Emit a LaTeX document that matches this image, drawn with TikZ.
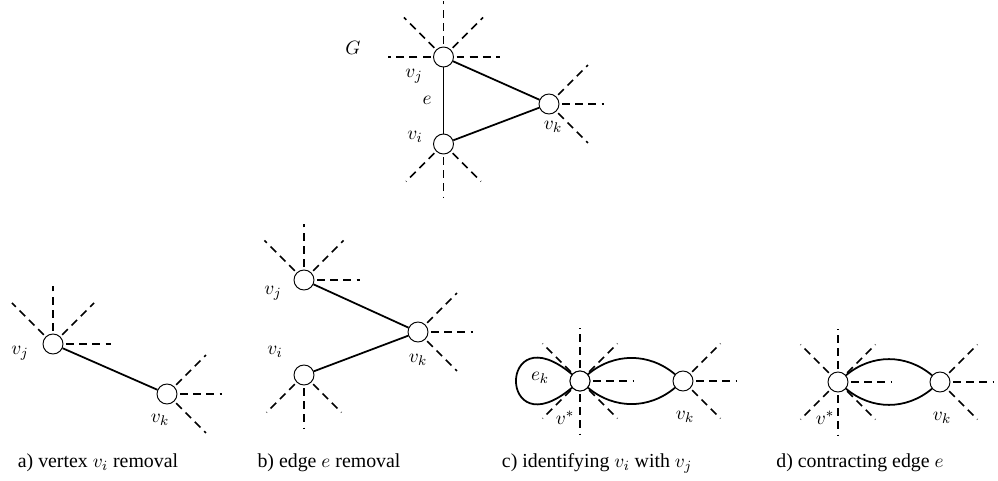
\documentclass[tikz,border=0pt]{standalone}
\usepackage{amsmath}
\usepackage{fontspec}
\setmainfont{Liberation Serif}
\usetikzlibrary{arrows.meta, positioning, calc}

\begin{document}
\begin{tikzpicture}[
    font=\fontsize{11.3}{13.5}\selectfont,
    vert/.style={circle, draw, fill=white, line width=0.55pt, inner sep=0pt, minimum size=0.4cm},
    ray/.style={line width=1pt, dash pattern=on 4.5pt off 3pt},
    edge/.style={line width=1pt}
]
    \useasboundingbox (0,0) rectangle (19.96,9.6);

    % original graph G
    \node[vert] (vj) at (8.87,8.46) {};
    \node[vert] (vi) at (8.87,6.72) {};
    \node[vert] (vk) at (10.98,7.52) {};
    \foreach \a in {0,45,90,135,180}
        \draw[ray] (vj) ++(\a:0.26) -- ++(\a:0.86);
    \foreach \a in {-45,-90,-135}
        \draw[ray] (vi) ++(\a:0.26) -- ++(\a:0.8);
    \foreach \a in {45,0,-45}
        \draw[ray] (vk) ++(\a:0.26) -- ++(\a:0.84);
    \draw[edge] (vj) -- (vi);
    \draw[edge] (vj) -- (vk);
    \draw[edge] (vi) -- (vk);
    \node (lG) at (7.06,8.64) {$G$};
    \node (lvj) at (8.28,8.08) {$v_j$};
    \node (le) at (8.54,7.6) {$e$};
    \node (lvi) at (8.3,6.86) {$v_i$};
    \node (lvk) at (11.06,7.06) {$v_k$};

    % a) vertex removal
    \node[vert] (avj) at (1.06,2.72) {};
    \node[vert] (avk) at (3.34,1.72) {};
    \foreach \a in {0,45,90,135}
        \draw[ray] (avj) ++(\a:0.26) -- ++(\a:0.9);
    \foreach \a in {45,0,-45}
        \draw[ray] (avk) ++(\a:0.26) -- ++(\a:0.84);
    \draw[edge] (avj) -- (avk);
    \node (alvj) at (0.4,2.54) {$v_j$};
    \node (alvk) at (3.2,1.2) {$v_k$};
    \node (capa) at (1.96,0.34) {a) vertex $v_i$ removal};

    % b) edge removal
    \node[vert] (bvj) at (6.08,4.0) {};
    \node[vert] (bvi) at (6.08,2.1) {};
    \node[vert] (bvk) at (8.36,2.96) {};
    \foreach \a in {0,45,90,135}
        \draw[ray] (bvj) ++(\a:0.26) -- ++(\a:0.86);
    \foreach \a in {-45,-90,-135}
        \draw[ray] (bvi) ++(\a:0.26) -- ++(\a:0.8);
    \foreach \a in {45,0,-45}
        \draw[ray] (bvk) ++(\a:0.26) -- ++(\a:0.84);
    \draw[edge] (bvj) -- (bvk);
    \draw[edge] (bvi) -- (bvk);
    \node (blvj) at (5.46,3.74) {$v_j$};
    \node (blvi) at (5.5,2.56) {$v_i$};
    \node (blvk) at (8.36,2.4) {$v_k$};
    \node (capb) at (6.58,0.34) {b) edge $e$ removal};

    % c) identifying vertices
    \node[vert] (cvs) at (11.6,1.98) {};
    \node[vert] (cvk) at (13.66,1.98) {};
    \draw[edge] (cvs) to[out=140,in=220,min distance=1.95cm] (cvs);
    \draw[edge] (cvs) to[out=40,in=140] (cvk);
    \draw[edge] (cvs) to[out=-40,in=-140] (cvk);
    \foreach \a in {90,45,0,-45,-90}
        \draw[ray] (cvs) ++(\a:0.26) -- ++(\a:0.8);
    \foreach \a in {135,-135}
        \draw[ray] (cvs) ++(\a:0.26) -- ++(\a:0.8);
    \foreach \a in {45,0,-45}
        \draw[ray] (cvk) ++(\a:0.26) -- ++(\a:0.8);
    \node[vert] at (cvs) {};
    \node (clek) at (10.8,2.04) {$e_k$};
    \node (clvs) at (11.3,1.24) {$v^*$};
    \node (clvk) at (13.7,1.26) {$v_k$};
    \node (capc) at (11.94,0.34) {c) identifying $v_i$ with $v_j$};

    % d) edge contraction
    \node[vert] (dvs) at (16.76,1.96) {};
    \node[vert] (dvk) at (18.8,1.96) {};
    \draw[edge] (dvs) to[out=40,in=140] (dvk);
    \draw[edge] (dvs) to[out=-40,in=-140] (dvk);
    \foreach \a in {90,45,0,-45,-90,135,-135}
        \draw[ray] (dvs) ++(\a:0.26) -- ++(\a:0.8);
    \foreach \a in {45,0,-45}
        \draw[ray] (dvk) ++(\a:0.26) -- ++(\a:0.8);
    \node (dlvs) at (16.5,1.24) {$v^*$};
    \node (dlvk) at (18.84,1.24) {$v_k$};
    \node (capd) at (17.2,0.34) {d) contracting edge $e$};
\end{tikzpicture}
\end{document}
